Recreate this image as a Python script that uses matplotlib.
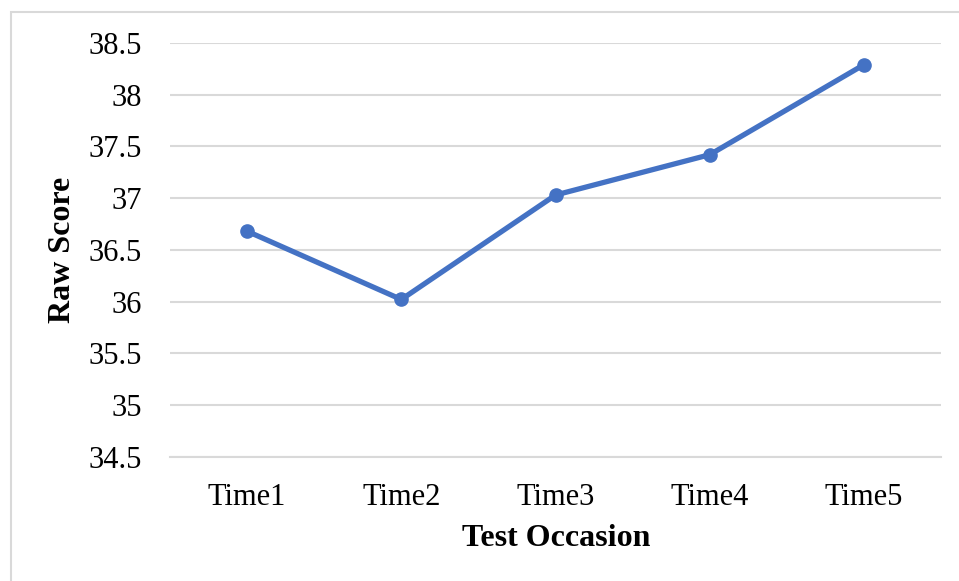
import matplotlib
matplotlib.use("Agg")
import matplotlib.pyplot as plt
from matplotlib.patches import Rectangle

categories = ["Time1", "Time2", "Time3", "Time4", "Time5"]
raw_score = [36.68, 36.02, 37.03, 37.42, 38.29]
y_ticks = [34.5, 35, 35.5, 36, 36.5, 37, 37.5, 38, 38.5]
y_tick_labels = ["34.5", "35", "35.5", "36", "36.5", "37", "37.5", "38", "38.5"]

plt.rcParams["font.family"] = ["Liberation Serif", "DejaVu Serif"]

W, H = 959, 581
fig = plt.figure(figsize=(W / 100, H / 100), dpi=100)

# light chart-area border (only top/left visible in the reference)
fig.patches.append(Rectangle((11 / W, -0.1), 2, 1.1 - 12 / H, transform=fig.transFigure,
                             fill=False, edgecolor="#D9D9D9", linewidth=1.5))

ax = fig.add_axes([170 / W, (H - 456.7) / H, (941 - 170) / W, (456.7 - 43) / H])

x = list(range(len(categories)))
ax.plot(x, raw_score, color="#4472C4", linewidth=3.8, marker="o", markersize=9.5,
        solid_capstyle="round", zorder=3)

ax.set_xlim(-0.5, len(categories) - 0.5)
ax.set_ylim(34.5, 38.5)
ax.set_yticks(y_ticks)
ax.set_yticklabels(y_tick_labels)
ax.set_xticks(x)
ax.set_xticklabels(categories)
ax.grid(axis="y", color="#D9D9D9", linewidth=1.5)
ax.set_axisbelow(True)
for s in ["top", "right", "left"]:
    ax.spines[s].set_visible(False)
ax.spines["bottom"].set_color("#D9D9D9")
ax.spines["bottom"].set_linewidth(1.5)
ax.tick_params(axis="both", length=0, labelsize=22)
ax.tick_params(axis="y", pad=20)
ax.tick_params(axis="x", pad=19)

fig.text(556 / W, (H - 539) / H, "Test Occasion", ha="center", va="center",
         fontsize=23, fontweight="bold")
fig.text(62 / W, (H - 250) / H, "Raw Score", ha="center", va="center",
         fontsize=23, fontweight="bold", rotation=90)

fig.savefig("out.png", dpi=100)
